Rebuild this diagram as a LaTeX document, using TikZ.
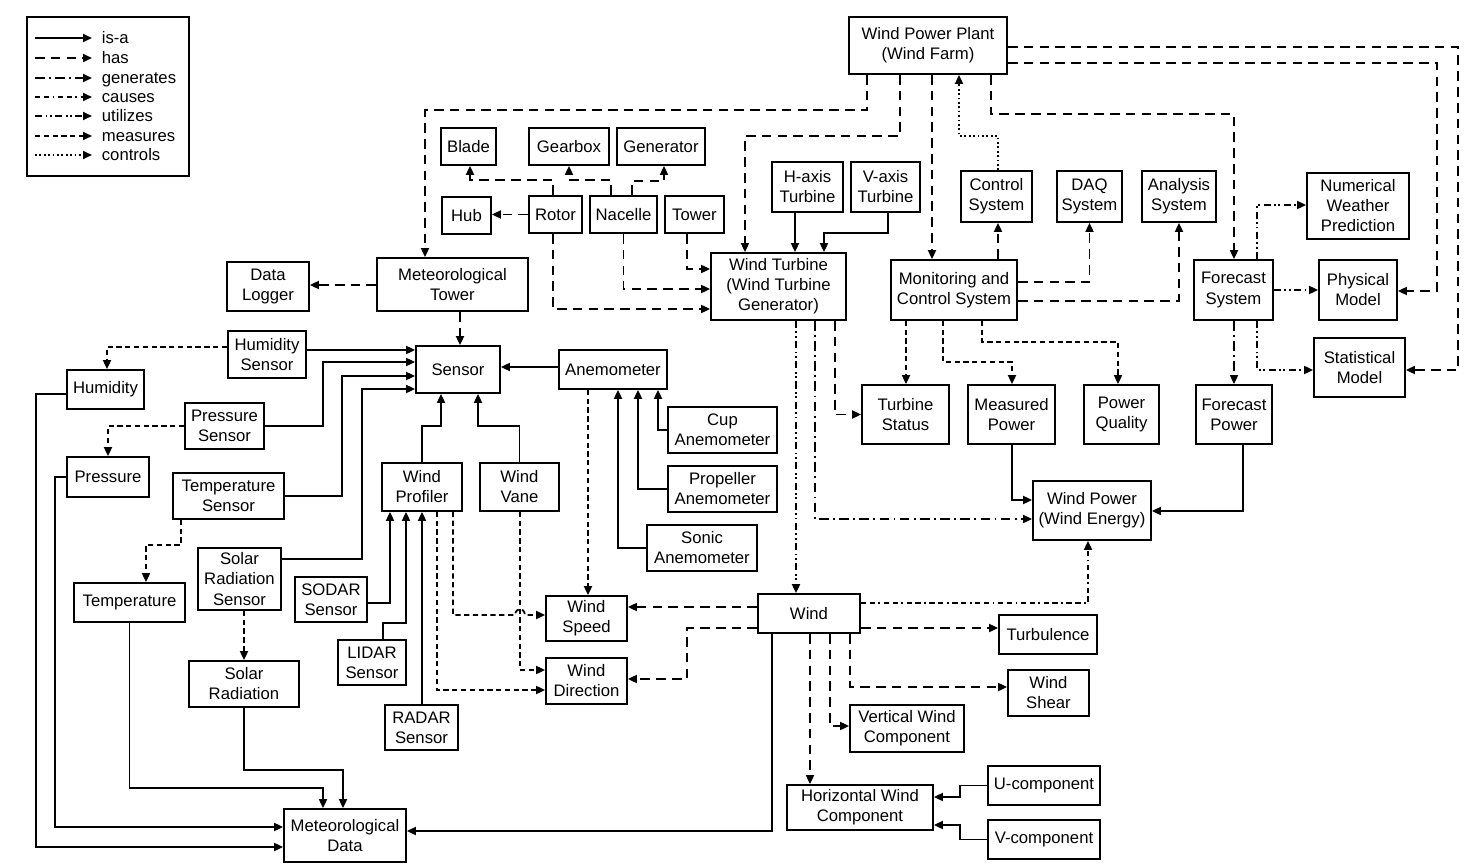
\documentclass[tikz,border=0pt]{standalone}
\usepackage{fontspec}
\setmainfont{Liberation Sans}
\usetikzlibrary{arrows.meta}

\newcommand{\pxu}{*0.02cm}

\begin{document}
\begin{tikzpicture}[
    x=0.02cm, y=-0.02cm,
    every node/.style={font=\fontsize{9.5}{11.4}\selectfont},
    box/.style={
        rectangle, draw, line width=1pt,
        align=center, inner sep=1pt
    },
    legtxt/.style={
        anchor=west, inner xsep=0.18cm, inner ysep=0pt,
        text height=1.5ex, text depth=0.3ex
    },
    >={Triangle[length=0.18cm, width=0.16cm]}, line width=1pt,
    isa/.style={->},
    has/.style={->, dash pattern=on 5.5pt off 3.5pt},
    gen/.style={->, dash pattern=on 5.5pt off 2.5pt on 1pt off 2.5pt},
    cause/.style={->, dash pattern=on 3pt off 2pt on 3pt off 2pt on 1pt off 2pt},
    util/.style={->, dash pattern=on 4pt off 2pt on 1pt off 1.5pt on 1pt off 2pt},
    meas/.style={->, dash pattern=on 3pt off 2pt},
    ctrl/.style={->, dash pattern=on 1pt off 1.5pt}
]
\useasboundingbox (0,0) rectangle (1471,865);

% legend
\node[box, minimum width=162\pxu, minimum height=159\pxu] (legend) at (108,96.5) {};
\node[legtxt] (l-isa)   at (92,38)  {is-a};
\node[legtxt] (l-has)   at (92,58)  {has};
\node[legtxt] (l-gen)   at (92,78)  {generates};
\node[legtxt] (l-cause) at (92,97)  {causes};
\node[legtxt] (l-util)  at (92,116) {utilizes};
\node[legtxt] (l-meas)  at (92,136) {measures};
\node[legtxt] (l-ctrl)  at (92,155) {controls};
\draw[isa]   (35,38)  -- (l-isa.west);
\draw[has]   (35,58)  -- (l-has.west);
\draw[gen]   (35,78)  -- (l-gen.west);
\draw[cause] (35,97)  -- (l-cause.west);
\draw[util]  (35,116) -- (l-util.west);
\draw[meas]  (35,136) -- (l-meas.west);
\draw[ctrl]  (35,155) -- (l-ctrl.west);

% nodes
\node[box, minimum width=158\pxu, minimum height=57\pxu] (wpp)         at (928,45.5)    {Wind Power Plant\\(Wind Farm)};
\node[box, minimum width=55\pxu,  minimum height=37\pxu] (blade)       at (468.5,146.5) {Blade};
\node[box, minimum width=80\pxu,  minimum height=37\pxu] (gearbox)     at (569,146.5)   {Gearbox};
\node[box, minimum width=88\pxu,  minimum height=37\pxu] (generator)   at (661,146.5)   {Generator};
\node[box, minimum width=49\pxu,  minimum height=37\pxu] (hub)         at (466.5,215.5) {Hub};
\node[box, minimum width=53\pxu,  minimum height=37\pxu] (rotor)       at (555.5,214.5) {Rotor};
\node[box, minimum width=67\pxu,  minimum height=37\pxu] (nacelle)     at (623.5,214.5) {Nacelle};
\node[box, minimum width=59\pxu,  minimum height=37\pxu] (tower)       at (694.5,214.5) {Tower};
\node[box, minimum width=71\pxu,  minimum height=50\pxu] (haxis)       at (807.5,187)   {H-axis\\Turbine};
\node[box, minimum width=69\pxu,  minimum height=50\pxu] (vaxis)       at (885.5,187)   {V-axis\\Turbine};
\node[box, minimum width=135\pxu, minimum height=67\pxu] (wtg)         at (778.5,286.5) {Wind Turbine\\(Wind Turbine\\Generator)};
\node[box, minimum width=151\pxu, minimum height=53\pxu] (mtower)      at (452.5,284.5) {Meteorological\\Tower};
\node[box, minimum width=82\pxu,  minimum height=49\pxu] (logger)      at (268,286.5)   {Data\\Logger};
\node[box, minimum width=71\pxu,  minimum height=51\pxu] (ctrlsys)     at (996.5,196.5) {Control\\System};
\node[box, minimum width=65\pxu,  minimum height=51\pxu] (daq)         at (1089.5,196.5) {DAQ\\System};
\node[box, minimum width=74\pxu,  minimum height=51\pxu] (analysis)    at (1179,196.5)  {Analysis\\System};
\node[box, minimum width=102\pxu, minimum height=66\pxu] (nwp)         at (1358,206)    {Numerical\\Weather\\Prediction};
\node[box, minimum width=126\pxu, minimum height=60\pxu] (mcs)         at (954,290)     {Monitoring and\\Control System};
\node[box, minimum width=79\pxu,  minimum height=60\pxu] (fsys)        at (1233.5,290)  {Forecast\\System};
\node[box, minimum width=78\pxu,  minimum height=60\pxu] (phys)        at (1358,290)    {Physical\\Model};
\node[box, minimum width=91\pxu,  minimum height=59\pxu] (stat)        at (1359.5,367.5) {Statistical\\Model};
\node[box, minimum width=78\pxu,  minimum height=47\pxu] (humsens)     at (267,354.5)   {Humidity\\Sensor};
\node[box, minimum width=84\pxu,  minimum height=47\pxu] (sensor)      at (458,369.5)   {Sensor};
\node[box, minimum width=108\pxu, minimum height=39\pxu] (anemo)       at (613,369.5)   {Anemometer};
\node[box, minimum width=77\pxu,  minimum height=39\pxu] (humidity)    at (105.5,389.5) {Humidity};
\node[box, minimum width=79\pxu,  minimum height=46\pxu] (pressens)    at (224.5,426)   {Pressure\\Sensor};
\node[box, minimum width=109\pxu, minimum height=46\pxu] (cup)         at (722.5,430)   {Cup\\Anemometer};
\node[box, minimum width=87\pxu,  minimum height=59\pxu] (tstatus)     at (905.5,414.5) {Turbine\\Status};
\node[box, minimum width=87\pxu,  minimum height=59\pxu] (mpower)      at (1011.5,414.5) {Measured\\Power};
\node[box, minimum width=75\pxu,  minimum height=59\pxu] (pquality)    at (1121.5,414.5) {Power\\Quality};
\node[box, minimum width=76\pxu,  minimum height=59\pxu] (fpower)      at (1234,414.5)  {Forecast\\Power};
\node[box, minimum width=82\pxu,  minimum height=40\pxu] (pressure)    at (108,477)     {Pressure};
\node[box, minimum width=111\pxu, minimum height=46\pxu] (tempsens)    at (228.5,496)   {Temperature\\Sensor};
\node[box, minimum width=80\pxu,  minimum height=48\pxu] (profiler)    at (422,487)     {Wind\\Profiler};
\node[box, minimum width=79\pxu,  minimum height=48\pxu] (vane)        at (519.5,487)   {Wind\\Vane};
\node[box, minimum width=109\pxu, minimum height=46\pxu] (propeller)   at (722.5,489)   {Propeller\\Anemometer};
\node[box, minimum width=118\pxu, minimum height=59\pxu] (wpower)      at (1092,510.5)  {Wind Power\\(Wind Energy)};
\node[box, minimum width=110\pxu, minimum height=46\pxu] (sonic)       at (702,548)     {Sonic\\Anemometer};
\node[box, minimum width=83\pxu,  minimum height=62\pxu] (solsens)     at (239.5,579)   {Solar\\Radiation\\Sensor};
\node[box, minimum width=72\pxu,  minimum height=45\pxu] (sodar)       at (331,599.5)   {SODAR\\Sensor};
\node[box, minimum width=111\pxu, minimum height=39\pxu] (temperature) at (129.5,602.5) {Temperature};
\node[box, minimum width=81\pxu,  minimum height=45\pxu] (wspeed)      at (586.5,618.5) {Wind\\Speed};
\node[box, minimum width=102\pxu, minimum height=39\pxu] (wind)        at (809,613.5)   {Wind};
\node[box, minimum width=98\pxu,  minimum height=39\pxu] (turb)        at (1048,634.5)  {Turbulence};
\node[box, minimum width=68\pxu,  minimum height=45\pxu] (lidar)       at (372,662.5)   {LIDAR\\Sensor};
\node[box, minimum width=81\pxu,  minimum height=46\pxu] (wdir)        at (586.5,681)   {Wind\\Direction};
\node[box, minimum width=110\pxu, minimum height=46\pxu] (solrad)      at (244,684)     {Solar\\Radiation};
\node[box, minimum width=81\pxu,  minimum height=46\pxu] (shear)       at (1048.5,693)  {Wind\\Shear};
\node[box, minimum width=114\pxu, minimum height=47\pxu] (vert)        at (907,728.5)   {Vertical Wind\\Component};
\node[box, minimum width=73\pxu,  minimum height=45\pxu] (radar)       at (421.5,727.5) {RADAR\\Sensor};
\node[box, minimum width=112\pxu, minimum height=39\pxu] (ucomp)       at (1044,785.5)  {U-component};
\node[box, minimum width=146\pxu, minimum height=45\pxu] (hwc)         at (860,807.5)   {Horizontal Wind\\Component};
\node[box, minimum width=122\pxu, minimum height=53\pxu] (metdata)     at (345,835.5)   {Meteorological\\Data};
\node[box, minimum width=112\pxu, minimum height=39\pxu] (vcomp)       at (1044,839.5)  {V-component};

% has
\draw[has] (wpp.south -| 867,0) |- (425,110) -- (mtower.north -| 425,0);
\draw[has] (wpp.south -| 900,0) |- (745,136) -- (wtg.north -| 745,0);
\draw[has] (wpp.south -| 932,0) -- (mcs.north -| 932,0);
\draw[has] (wpp.south -| 991,0) |- (1234,114) -- (fsys.north -| 1234,0);
\draw[has] (wpp.east |- 0,63) -| (1437,291) -- (phys.east |- 0,291);
\draw[has] (wpp.east |- 0,47) -| (1458,370) -- (stat.east |- 0,370);
\draw[has] (rotor.north -| 553,0) |- (470,180) -- (blade.south -| 470,0);
\draw[has] (nacelle.north -| 611,0) |- (569,180) -- (gearbox.south);
\draw[has] (nacelle.north -| 632,0) |- (664,181) -- (generator.south -| 664,0);
\draw[has] (rotor.west) -- (hub.east |- rotor.west);
\draw[has] (tower.south -| 687,0) |- (wtg.west |- 0,269);
\draw[has] (nacelle.south) |- (wtg.west |- 0,289);
\draw[has] (rotor.south -| 553,0) |- (wtg.west |- 0,309);
\draw[has] (mtower.west |- 0,285) -- (logger.east |- 0,285);
\draw[has] (mtower.south -| 460,0) -- (sensor.north -| 460,0);
\draw[has] (mcs.north -| 998,0) -- (ctrlsys.south -| 998,0);
\draw[has] (mcs.east |- 0,282) -| (daq.south);
\draw[has] (mcs.east |- 0,301) -| (analysis.south);
\draw[has] (wtg.south -| 835,0) |- (tstatus.west);
\draw[has] (wind.west |- 0,607) -- (wspeed.east |- 0,607);
\draw[has] (wind.west |- 0,628) -| (687,679) -- (wdir.east |- 0,679);
\draw[has] (wind.east |- 0,628) -- (turb.west |- 0,628);
\draw[has] (wind.south -| 850,0) |- (shear.west |- 0,687);
\draw[has] (wind.south -| 830,0) |- (vert.west |- 0,726);
\draw[has] (wind.south -| 810,0) -- (hwc.north -| 810,0);

% measures
\draw[meas] (humsens.west |- 0,347) -| (humidity.north -| 107,0);
\draw[meas] (pressens.west) -| (pressure.north -| 108,0);
\draw[meas] (tempsens.south -| 181,0) |- (146,545) -- (temperature.north -| 146,0);
\draw[meas] (solsens.south -| 244,0) -- (solrad.north -| 244,0);
\draw[meas] (anemo.south -| 588,0) -- (wspeed.north -| 588,0);
\draw[meas] (profiler.south -| 453,0) |- (515,615)
    .. controls (516,607) and (524,607) .. (525,615) -- (wspeed.west |- 0,615);
\draw[meas] (profiler.south -| 437,0) |- (wdir.west |- 0,690);
\draw[meas] (vane.south -| 520,0) |- (wdir.west |- 0,670);
\draw[meas] (mcs.south -| 906,0) -- (tstatus.north -| 906,0);
\draw[meas] (mcs.south -| 943,0) |- (1012,362) -- (mpower.north -| 1012,0);
\draw[meas] (mcs.south -| 982,0) |- (1118,342) -- (pquality.north -| 1118,0);

% generates, causes, utilizes, controls
\draw[gen] (wtg.south -| 815,0) |- (wpower.west |- 0,519);
\draw[gen] (fsys.south -| 1234,0) -- (fpower.north -| 1234,0);
\draw[cause] (wind.east |- 0,603) -| (wpower.south -| 1088,0);
\draw[util] (wtg.south -| 796,0) -- (wind.north -| 796,0);
\draw[util] (fsys.north -| 1257,0) |- (nwp.west |- 0,205);
\draw[util] (fsys.east |- 0,290) -- (phys.west |- 0,290);
\draw[util] (fsys.south -| 1257,0) |- (stat.west |- 0,370);
\draw[ctrl] (ctrlsys.north -| 998,0) |- (959,136) -- (wpp.south -| 959,0);

% is-a
\draw[isa] (anemo.west |- 0,367) -- (sensor.east |- 0,367);
\draw[isa] (cup.west) -| (anemo.south -| 658,0);
\draw[isa] (propeller.west) -| (anemo.south -| 638,0);
\draw[isa] (sonic.west) -| (anemo.south -| 618,0);
\draw[isa] (humsens.east |- 0,350) -- (sensor.west |- 0,350);
\draw[isa] (pressens.east) -| (323,362) -- (sensor.west |- 0,362);
\draw[isa] (tempsens.east) -| (342,376) -- (sensor.west |- 0,376);
\draw[isa] (solsens.east |- 0,559) -| (362,389) -- (sensor.west |- 0,389);
\draw[isa] (profiler.north) |- (441,426) -- (sensor.south -| 441,0);
\draw[isa] (vane.north) |- (478,426) -- (sensor.south -| 478,0);
\draw[isa] (sodar.east |- 0,603) -| (profiler.south -| 390,0);
\draw[isa] (lidar.north -| 383,0) |- (406,623) -- (profiler.south -| 406,0);
\draw[isa] (radar.north -| 422,0) -- (profiler.south -| 422,0);
\draw[isa] (haxis.south -| 795,0) -- (wtg.north -| 795,0);
\draw[isa] (vaxis.south -| 888,0) |- (824,233) -- (wtg.north -| 824,0);
\draw[isa] (mpower.south -| 1012,0) |- (wpower.west |- 0,500);
\draw[isa] (fpower.south -| 1243,0) |- (wpower.east |- 0,511);
\draw[isa] (humidity.west |- 0,394) -| (36,847) -- (metdata.west |- 0,847);
\draw[isa] (pressure.west) -| (55,827) -- (metdata.west |- 0,827);
\draw[isa] (temperature.south) |- (323,788) -- (metdata.north -| 323,0);
\draw[isa] (solrad.south) |- (343,770) -- (metdata.north -| 343,0);
\draw[isa] (wind.south -| 772,0) |- (metdata.east |- 0,831);
\draw[isa] (ucomp.west) -| (960,797) -- (hwc.east |- 0,797);
\draw[isa] (vcomp.west) -| (960,825) -- (hwc.east |- 0,825);

\end{tikzpicture}
\end{document}
